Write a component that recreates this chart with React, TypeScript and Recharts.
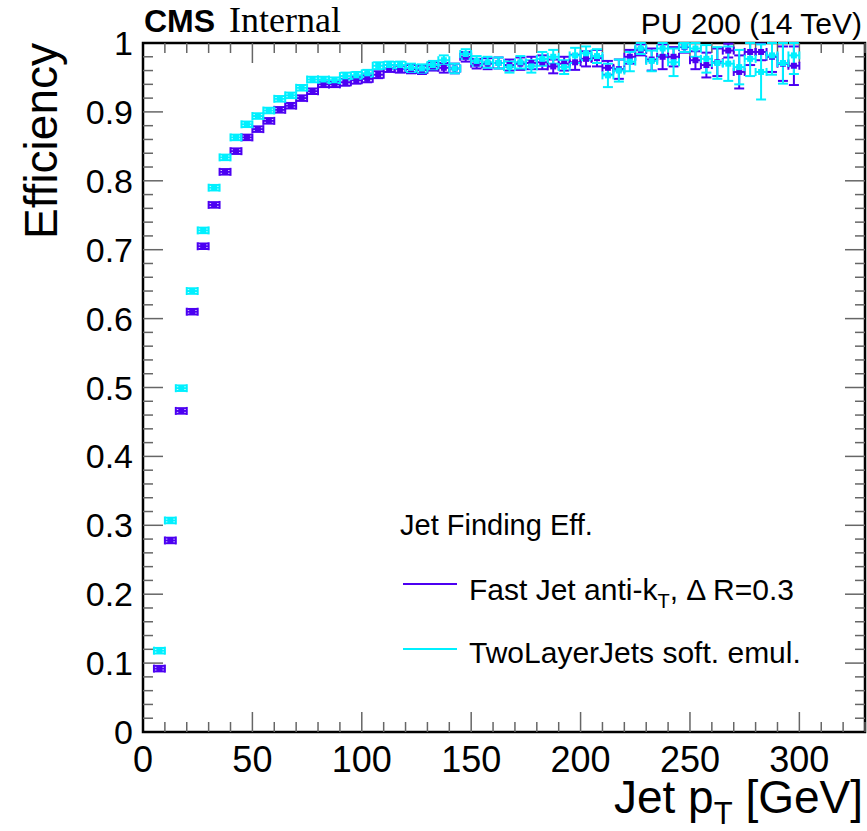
import React from 'react';
import { ScatterChart, Scatter, XAxis, YAxis, ErrorBar, ReferenceLine, ReferenceArea } from 'recharts';

const ptBins = [
  7.5, 12.5, 17.5, 22.5, 27.5, 32.5, 37.5, 42.5, 47.5, 52.5,
  57.5, 62.5, 67.5, 72.5, 77.5, 82.5, 87.5, 92.5, 97.5, 102.5,
  107.5, 112.5, 117.5, 122.5, 127.5, 132.5, 137.5, 142.5, 147.5, 152.5,
  157.5, 162.5, 167.5, 172.5, 177.5, 182.5, 187.5, 192.5, 197.5, 202.5,
  207.5, 212.5, 217.5, 222.5, 227.5, 232.5, 237.5, 242.5, 247.5, 252.5,
  257.5, 262.5, 267.5, 272.5, 277.5, 282.5, 287.5, 292.5, 297.5,
];

const fastJetEff = [
  0.092, 0.278, 0.466, 0.610, 0.705, 0.765, 0.813, 0.843, 0.863, 0.875,
  0.887, 0.903, 0.909, 0.920, 0.930, 0.940, 0.940, 0.943, 0.946, 0.948,
  0.954, 0.963, 0.962, 0.962, 0.961, 0.966, 0.964, 0.963, 0.980, 0.970,
  0.970, 0.971, 0.968, 0.970, 0.971, 0.972, 0.966, 0.970, 0.972, 0.977,
  0.978, 0.964, 0.962, 0.980, 0.990, 0.976, 0.980, 0.980, 0.994, 0.975,
  0.968, 0.972, 0.989, 0.958, 0.987, 0.987, 0.980, 0.970, 0.967,
];

const fastJetErr = [
  0.004, 0.004, 0.004, 0.004, 0.004, 0.004, 0.004, 0.004, 0.004, 0.004,
  0.004, 0.004, 0.004, 0.004, 0.004, 0.004, 0.004, 0.005, 0.005, 0.005,
  0.005, 0.005, 0.005, 0.006, 0.006, 0.006, 0.007, 0.007, 0.007, 0.007,
  0.008, 0.008, 0.008, 0.009, 0.009, 0.010, 0.010, 0.010, 0.011, 0.011,
  0.012, 0.010, 0.014, 0.010, 0.008, 0.016, 0.018, 0.014, 0.008, 0.013,
  0.018, 0.020, 0.010, 0.024, 0.019, 0.012, 0.022, 0.025, 0.028,
];

const twoLayerEff = [
  0.118, 0.307, 0.499, 0.640, 0.728, 0.790, 0.834, 0.863, 0.882, 0.894,
  0.902, 0.919, 0.924, 0.935, 0.947, 0.947, 0.946, 0.952, 0.953, 0.956,
  0.967, 0.968, 0.968, 0.964, 0.963, 0.968, 0.975, 0.963, 0.984, 0.974,
  0.972, 0.971, 0.965, 0.972, 0.966, 0.977, 0.980, 0.965, 0.982, 0.985,
  0.981, 0.953, 0.960, 0.973, 0.992, 0.974, 0.992, 0.972, 0.995, 0.992,
  0.977, 0.971, 0.970, 0.965, 0.977, 0.958, 0.982, 0.971, 0.982,
];

const twoLayerErr = [
  0.004, 0.004, 0.004, 0.004, 0.004, 0.004, 0.004, 0.004, 0.004, 0.004,
  0.004, 0.004, 0.004, 0.004, 0.004, 0.004, 0.004, 0.005, 0.005, 0.005,
  0.005, 0.005, 0.005, 0.006, 0.006, 0.006, 0.007, 0.007, 0.007, 0.007,
  0.008, 0.008, 0.008, 0.009, 0.009, 0.010, 0.010, 0.010, 0.011, 0.010,
  0.010, 0.017, 0.016, 0.014, 0.008, 0.015, 0.010, 0.020, 0.008, 0.012,
  0.020, 0.023, 0.025, 0.025, 0.025, 0.040, 0.028, 0.030, 0.027,
];

const binHalfWidth = 2.5;
const xTickLabels = [0, 50, 100, 150, 200, 250, 300];
const yTickLabels = [0, 0.1, 0.2, 0.3, 0.4, 0.5, 0.6, 0.7, 0.8, 0.9, 1];

const seriesNames = ['Fast Jet anti-k', 'TwoLayerJets soft. emul.'];
const VIOLET = '#4c00f2';
const CYAN = '#00f0ff';

const X_MAX = 330;
const PLOT_W = 722;
const PLOT_H = 689;
const pxX = X_MAX / PLOT_W; // data units per px along x
const pxY = 1 / PLOT_H;

const xMinor = Array.from({ length: 33 }, (_, i) => (i + 1) * 10);
const yMinor = Array.from({ length: 49 }, (_, i) => Math.round((i + 1) * 2) / 100);

function buildRows(eff: number[], err: number[]) {
  return ptBins.map((x, i) => {
    const y = eff[i];
    const e = err[i];
    return { x, y, ex: binHalfWidth, ey: [Math.min(e, y), Math.min(e, 1 - y)] };
  });
}

const fastRows = buildRows(fastJetEff, fastJetErr);
const twoRows = buildRows(twoLayerEff, twoLayerErr);

const FONT = '"Liberation Sans", Arial, Helvetica, sans-serif';

const XTick = (props: any) => {
  const { x, y, payload } = props;
  return (
    <text x={x} y={y + 40} textAnchor="middle" fontSize={36} fontFamily={FONT} fill="#000">
      {payload.value}
    </text>
  );
};

const YTick = (props: any) => {
  const { x, y, payload } = props;
  const v = payload.value;
  const label = v === 0 ? '0' : v === 1 ? '1' : v.toFixed(1);
  return (
    <text x={x - 10} y={y + 12} textAnchor="end" fontSize={34} fontFamily={FONT} fill="#000">
      {label}
    </text>
  );
};

const marker = (color: string) => (p: any) => (
  <rect x={p.cx - 3} y={p.cy - 3} width={6} height={6} fill={color} />
);

export default function App() {
  const tickStroke = '#666';
  return (
    <div style={{ position: 'absolute', left: 0, top: 0, width: 867, height: 831, background: '#fff' }}>
      <ScatterChart width={867} height={831} margin={{ top: 43, right: 2, bottom: 39, left: 0 }}>
        <XAxis
          type="number"
          dataKey="x"
          domain={[0, X_MAX]}
          ticks={xTickLabels}
          allowDataOverflow
          axisLine={false}
          tickLine={false}
          tickSize={0}
          tickMargin={0}
          height={60}
          tick={<XTick />}
          interval={0}
        />
        <YAxis
          type="number"
          dataKey="y"
          domain={[0, 1]}
          ticks={yTickLabels}
          allowDataOverflow
          axisLine={false}
          tickLine={false}
          tickSize={0}
          tickMargin={0}
          width={143}
          tick={<YTick />}
          interval={0}
        />
        {xMinor.map((t) => {
          const len = (t % 50 === 0 ? 20 : 10) * pxY;
          return (
            <ReferenceLine key={'xb' + t} segment={[{ x: t, y: 0 }, { x: t, y: len }]} stroke={tickStroke} strokeWidth={1.5} ifOverflow="visible" />
          );
        })}
        {xMinor.map((t) => {
          const len = (t % 50 === 0 ? 20 : 10) * pxY;
          return (
            <ReferenceLine key={'xt' + t} segment={[{ x: t, y: 1 }, { x: t, y: 1 - len }]} stroke={tickStroke} strokeWidth={1.5} ifOverflow="visible" />
          );
        })}
        {yMinor.map((t) => {
          const major = Math.round(t * 100) % 10 === 0;
          const len = (major ? 20 : 10) * pxX;
          return (
            <ReferenceLine key={'yl' + t} segment={[{ x: 0, y: t }, { x: len, y: t }]} stroke={tickStroke} strokeWidth={1.5} ifOverflow="visible" />
          );
        })}
        {yMinor.map((t) => {
          const major = Math.round(t * 100) % 10 === 0;
          const len = (major ? 20 : 10) * pxX;
          return (
            <ReferenceLine key={'yr' + t} segment={[{ x: X_MAX, y: t }, { x: X_MAX - len, y: t }]} stroke={tickStroke} strokeWidth={1.5} ifOverflow="visible" />
          );
        })}
        <ReferenceArea x1={0} x2={X_MAX} y1={0} y2={1} fill="none" stroke="#000" strokeWidth={2.5} ifOverflow="visible" />
        <Scatter name={seriesNames[0]} data={fastRows} isAnimationActive={false} shape={marker(VIOLET)}>
          <ErrorBar dataKey="ex" direction="x" width={4} stroke={VIOLET} strokeWidth={2} isAnimationActive={false} />
          <ErrorBar dataKey="ey" direction="y" width={5} stroke={VIOLET} strokeWidth={2} isAnimationActive={false} />
        </Scatter>
        <Scatter name={seriesNames[1]} data={twoRows} isAnimationActive={false} shape={marker(CYAN)}>
          <ErrorBar dataKey="ex" direction="x" width={4} stroke={CYAN} strokeWidth={2} isAnimationActive={false} />
          <ErrorBar dataKey="ey" direction="y" width={5} stroke={CYAN} strokeWidth={2} isAnimationActive={false} />
        </Scatter>
      </ScatterChart>
      <svg width={867} height={831} style={{ position: 'absolute', left: 0, top: 0, pointerEvents: 'none' }}>
        <text x={144} y={32} fontFamily={FONT} fontWeight="bold" fontSize={32} fill="#000">CMS</text>
        <text x={229} y={32} fontFamily={'"Liberation Serif", "Times New Roman", serif'} fontSize={36} fill="#000">Internal</text>
        <text x={862} y={34} textAnchor="end" fontFamily={FONT} fontSize={30} fill="#000">PU 200 (14 TeV)</text>
        <text transform="translate(57,43) rotate(-90)" textAnchor="end" fontFamily={FONT} fontSize={46} fill="#000">Efficiency</text>
        <text x={863} y={813} textAnchor="end" fontFamily={FONT} fontSize={46} fill="#000">
          <tspan>Jet p</tspan>
          <tspan fontSize={31} dy={11}>T</tspan>
          <tspan dy={-11}> [GeV]</tspan>
        </text>
        <text x={400} y={535} fontFamily={FONT} fontSize={29} fill="#000">Jet Finding Eff.</text>
        <line x1={403} x2={457} y1={584} y2={584} stroke={VIOLET} strokeWidth={2} />
        <text x={469} y={600} fontFamily={FONT} fontSize={30} fill="#000">
          <tspan>{seriesNames[0]}</tspan>
          <tspan fontSize={20} dy={8}>T</tspan>
          <tspan dy={-8}>, Δ R=0.3</tspan>
        </text>
        <line x1={403} x2={457} y1={649} y2={649} stroke={CYAN} strokeWidth={2} />
        <text x={469} y={663} fontFamily={FONT} fontSize={30} fill="#000">{seriesNames[1]}</text>
      </svg>
    </div>
  );
}
